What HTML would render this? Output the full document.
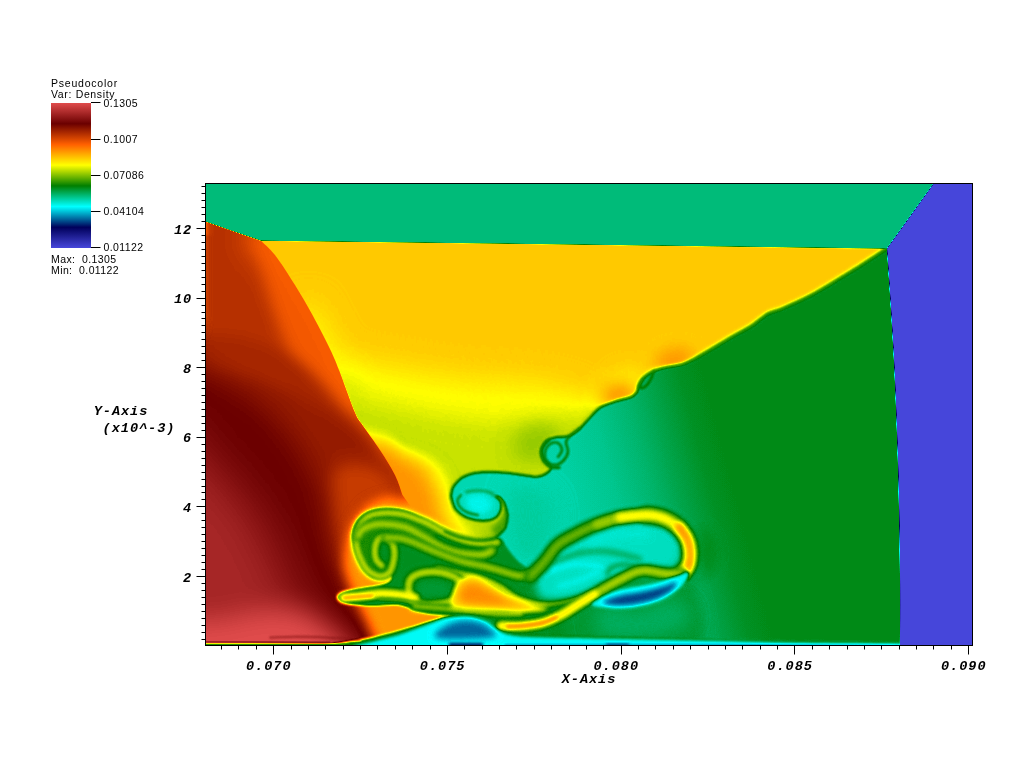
<!DOCTYPE html>
<html><head><meta charset="utf-8"><title>Pseudocolor Density</title>
<style>
html,body{margin:0;padding:0;background:#fff;overflow:hidden}
svg{display:block}
.mono text{font-family:"Liberation Mono","DejaVu Sans Mono",monospace;font-weight:bold;font-style:italic;font-size:13.6px;letter-spacing:0.95px;fill:#000}
.sans text{font-family:"Liberation Sans","DejaVu Sans",sans-serif;font-size:10.5px;fill:#000;letter-spacing:0.4px}
.sans text.t{letter-spacing:0.78px}
</style></head><body>
<svg width="1024" height="760" viewBox="0 0 1024 760">
<defs>
<linearGradient id="lg1" gradientUnits="userSpaceOnUse" x1="492" y1="480" x2="716" y2="421"><stop offset="0" stop-color="#545454" stop-opacity="1"/><stop offset="0.15" stop-color="#545454" stop-opacity="1"/><stop offset="0.32" stop-color="#565656" stop-opacity="1"/><stop offset="0.5" stop-color="#595959" stop-opacity="1"/><stop offset="0.66" stop-color="#5e5e5e" stop-opacity="1"/><stop offset="0.8" stop-color="#646464" stop-opacity="1"/><stop offset="0.9" stop-color="#686868" stop-opacity="1"/><stop offset="1" stop-color="#6a6a6a" stop-opacity="1"/></linearGradient>
<filter id="b10" filterUnits="userSpaceOnUse" x="100" y="100" width="960" height="640" color-interpolation-filters="sRGB"><feGaussianBlur stdDeviation="10"/></filter>
<clipPath id="cy"><path d="M200 235 L887 248 L887 248.5C882.6 251.3 863.9 263.6 854 269.7C844.1 275.8 822.6 289.1 813 294.3C803.4 299.5 788.3 306.1 782.3 308.7C776.3 311.3 772.1 311.5 768 313.8C763.9 316.1 756.4 322.9 751.5 326C746.6 329.1 736.5 334.2 731 337.4C725.5 340.6 715.3 346.9 710.5 349.7C705.7 352.5 698.6 356.5 694.8 358.4C691 360.3 685.8 362.9 682 364C678.2 365.1 670.2 366.1 666.4 367C662.6 367.9 656.7 369.6 653.7 371C650.7 372.4 646.2 375.5 644.2 377.4C642.2 379.3 639.7 383.4 638.7 385.3C637.7 387.2 637.9 390.1 637 391.6C636.1 393.1 634.4 395.1 631.6 396.4C628.8 397.7 620 399.5 615.8 401C611.6 402.5 603.8 404.9 600 407.4C596.2 409.9 590.4 417 587.5 420C584.6 423 580.6 427.9 578 430C575.4 432.1 570.9 435.1 568 436C565.1 436.9 558.9 436.3 556 437C553.1 437.7 548 439.1 546 441C544 442.9 541.3 448.3 541 451C540.7 453.7 542.7 458.7 544 461C545.3 463.3 550.9 466.3 551 468C551.1 469.7 547.1 472.9 545 474C542.9 475.1 540.3 476.7 535 476.5C529.7 476.3 512.7 473 505 472.5C497.3 472 482.7 471.8 477 472.5C471.3 473.2 465.2 475.6 462 477.5C458.8 479.4 454.5 484.7 453 487C451.5 489.3 451.2 493.3 451 495C450.8 496.7 451.1 498 451.7 500C452.3 502 454 507.5 455.7 509.7C457.4 511.9 461.7 515.2 464.6 516.7C467.5 518.2 474.1 520.1 477.4 520.6C480.7 521.1 486.6 521.1 489.2 520.6C491.8 520.1 495.5 518.2 497.1 516.7C498.7 515.2 500.5 511.8 501 509.7C501.5 507.6 501.2 502.8 500.5 501C499.8 499.2 496.6 497.1 496 496.5L500 497 L504.5 503 L507.5 514.7 L505.5 527.5 L495 538 L500 548 L520 600 L520 650 L200 650Z"/></clipPath>
<filter id="b1_3" filterUnits="userSpaceOnUse" x="100" y="100" width="960" height="640" color-interpolation-filters="sRGB"><feGaussianBlur stdDeviation="1.3"/></filter>
<filter id="b14" filterUnits="userSpaceOnUse" x="100" y="100" width="960" height="640" color-interpolation-filters="sRGB"><feGaussianBlur stdDeviation="14"/></filter>
<filter id="b11" filterUnits="userSpaceOnUse" x="100" y="100" width="960" height="640" color-interpolation-filters="sRGB"><feGaussianBlur stdDeviation="11"/></filter>
<filter id="b8" filterUnits="userSpaceOnUse" x="100" y="100" width="960" height="640" color-interpolation-filters="sRGB"><feGaussianBlur stdDeviation="8"/></filter>
<filter id="b6" filterUnits="userSpaceOnUse" x="100" y="100" width="960" height="640" color-interpolation-filters="sRGB"><feGaussianBlur stdDeviation="6"/></filter>
<filter id="b7" filterUnits="userSpaceOnUse" x="100" y="100" width="960" height="640" color-interpolation-filters="sRGB"><feGaussianBlur stdDeviation="7"/></filter>
<filter id="b3_5" filterUnits="userSpaceOnUse" x="100" y="100" width="960" height="640" color-interpolation-filters="sRGB"><feGaussianBlur stdDeviation="3.5"/></filter>
<filter id="b2_5" filterUnits="userSpaceOnUse" x="100" y="100" width="960" height="640" color-interpolation-filters="sRGB"><feGaussianBlur stdDeviation="2.5"/></filter>
<filter id="b7_5" filterUnits="userSpaceOnUse" x="100" y="100" width="960" height="640" color-interpolation-filters="sRGB"><feGaussianBlur stdDeviation="7.5"/></filter>
<filter id="b0_9" filterUnits="userSpaceOnUse" x="100" y="100" width="960" height="640" color-interpolation-filters="sRGB"><feGaussianBlur stdDeviation="0.9"/></filter>
<filter id="b3" filterUnits="userSpaceOnUse" x="100" y="100" width="960" height="640" color-interpolation-filters="sRGB"><feGaussianBlur stdDeviation="3"/></filter>
<filter id="b1_2" filterUnits="userSpaceOnUse" x="100" y="100" width="960" height="640" color-interpolation-filters="sRGB"><feGaussianBlur stdDeviation="1.2"/></filter>
<filter id="b1_5" filterUnits="userSpaceOnUse" x="100" y="100" width="960" height="640" color-interpolation-filters="sRGB"><feGaussianBlur stdDeviation="1.5"/></filter>
<filter id="b1_0" filterUnits="userSpaceOnUse" x="100" y="100" width="960" height="640" color-interpolation-filters="sRGB"><feGaussianBlur stdDeviation="1.0"/></filter>
<clipPath id="cr"><path d="M261 240.7C263.3 243.1 269.3 247.6 275 255C280.7 262.4 288.8 275 295 285C301.2 295 306.7 304.3 312.5 315C318.3 325.7 325.6 339.8 330 349C334.4 358.2 334.8 359.4 339 370C343.2 380.6 351.1 403.3 355 412.5C358.9 421.7 358.3 418.8 362.5 425C366.7 431.2 374.6 441.7 380 450C385.4 458.3 391.2 467.5 395 475C398.8 482.5 401.2 491.7 402.5 495L420 520 L520 560 L520 650 L200 650 L200 219.5Z"/></clipPath>
<clipPath id="crp"><path d="M170 190C184 133.4 274.2 199.2 290 205C305.8 210.8 300.9 232.4 305 240C309.1 247.6 320.6 263 325 270C329.4 277 338.4 292.5 342.5 300C346.6 307.5 356.9 327.6 360 334C363.1 340.4 366.1 347.6 369 355C371.9 362.4 382.3 391.1 385 397.5C387.7 403.9 389.6 405.6 392.5 410C395.4 414.4 406.2 429.2 410 435C413.8 440.8 423.2 453.6 425 460C426.8 466.4 427.4 485.3 425 490C422.6 494.7 408.3 499.3 404 500C399.7 500.7 392.4 495.3 388 496C383.6 496.7 370.6 502 366 506C361.4 510 351.7 523.1 349 530C346.3 536.9 342.5 557.4 343 565C343.5 572.6 349.6 586.8 353 595C356.4 603.2 368.9 623.9 372 635C375.1 646.1 403.6 683.6 380 690C356.4 696.4 194.5 748.3 170 690C145.5 631.7 156 246.6 170 190Z"/></clipPath>
<filter id="b4_5" filterUnits="userSpaceOnUse" x="100" y="100" width="960" height="640" color-interpolation-filters="sRGB"><feGaussianBlur stdDeviation="4.5"/></filter>
<filter id="b5" filterUnits="userSpaceOnUse" x="100" y="100" width="960" height="640" color-interpolation-filters="sRGB"><feGaussianBlur stdDeviation="5"/></filter>
<filter id="b15" filterUnits="userSpaceOnUse" x="100" y="100" width="960" height="640" color-interpolation-filters="sRGB"><feGaussianBlur stdDeviation="15"/></filter>
<filter id="b24" filterUnits="userSpaceOnUse" x="100" y="100" width="960" height="640" color-interpolation-filters="sRGB"><feGaussianBlur stdDeviation="24"/></filter>
<filter id="b13" filterUnits="userSpaceOnUse" x="100" y="100" width="960" height="640" color-interpolation-filters="sRGB"><feGaussianBlur stdDeviation="13"/></filter>
<filter id="b2_2" filterUnits="userSpaceOnUse" x="100" y="100" width="960" height="640" color-interpolation-filters="sRGB"><feGaussianBlur stdDeviation="2.2"/></filter>
<filter id="b1_1" filterUnits="userSpaceOnUse" x="100" y="100" width="960" height="640" color-interpolation-filters="sRGB"><feGaussianBlur stdDeviation="1.1"/></filter>
<filter id="b9" filterUnits="userSpaceOnUse" x="100" y="100" width="960" height="640" color-interpolation-filters="sRGB"><feGaussianBlur stdDeviation="9"/></filter>
<filter id="b2" filterUnits="userSpaceOnUse" x="100" y="100" width="960" height="640" color-interpolation-filters="sRGB"><feGaussianBlur stdDeviation="2"/></filter>
<filter id="b2_1" filterUnits="userSpaceOnUse" x="100" y="100" width="960" height="640" color-interpolation-filters="sRGB"><feGaussianBlur stdDeviation="2.1"/></filter>
<filter id="b1_8" filterUnits="userSpaceOnUse" x="100" y="100" width="960" height="640" color-interpolation-filters="sRGB"><feGaussianBlur stdDeviation="1.8"/></filter>
<filter id="b2_3" filterUnits="userSpaceOnUse" x="100" y="100" width="960" height="640" color-interpolation-filters="sRGB"><feGaussianBlur stdDeviation="2.3"/></filter>
<filter id="b2_0" filterUnits="userSpaceOnUse" x="100" y="100" width="960" height="640" color-interpolation-filters="sRGB"><feGaussianBlur stdDeviation="2.0"/></filter>
<filter id="b2_1999999999999997" filterUnits="userSpaceOnUse" x="100" y="100" width="960" height="640" color-interpolation-filters="sRGB"><feGaussianBlur stdDeviation="2.1999999999999997"/></filter>
<filter id="b1_9" filterUnits="userSpaceOnUse" x="100" y="100" width="960" height="640" color-interpolation-filters="sRGB"><feGaussianBlur stdDeviation="1.9"/></filter>
<filter id="b1_9000000000000001" filterUnits="userSpaceOnUse" x="100" y="100" width="960" height="640" color-interpolation-filters="sRGB"><feGaussianBlur stdDeviation="1.9000000000000001"/></filter>
<filter id="b1_6" filterUnits="userSpaceOnUse" x="100" y="100" width="960" height="640" color-interpolation-filters="sRGB"><feGaussianBlur stdDeviation="1.6"/></filter>
<filter id="b4" filterUnits="userSpaceOnUse" x="100" y="100" width="960" height="640" color-interpolation-filters="sRGB"><feGaussianBlur stdDeviation="4"/></filter>
<filter id="b2_4" filterUnits="userSpaceOnUse" x="100" y="100" width="960" height="640" color-interpolation-filters="sRGB"><feGaussianBlur stdDeviation="2.4"/></filter>
<filter id="b2_6" filterUnits="userSpaceOnUse" x="100" y="100" width="960" height="640" color-interpolation-filters="sRGB"><feGaussianBlur stdDeviation="2.6"/></filter>
<filter id="b3_3" filterUnits="userSpaceOnUse" x="100" y="100" width="960" height="640" color-interpolation-filters="sRGB"><feGaussianBlur stdDeviation="3.3"/></filter>
<filter id="b0_8" filterUnits="userSpaceOnUse" x="100" y="100" width="960" height="640" color-interpolation-filters="sRGB"><feGaussianBlur stdDeviation="0.8"/></filter>
<filter id="b0_5" filterUnits="userSpaceOnUse" x="100" y="100" width="960" height="640" color-interpolation-filters="sRGB"><feGaussianBlur stdDeviation="0.5"/></filter>
<filter id="b0_6" filterUnits="userSpaceOnUse" x="100" y="100" width="960" height="640" color-interpolation-filters="sRGB"><feGaussianBlur stdDeviation="0.6"/></filter>
<filter id="cmap" filterUnits="userSpaceOnUse" x="0" y="0" width="1024" height="760" color-interpolation-filters="sRGB"><feComponentTransfer><feFuncR type="table" tableValues="0.2784 0.0000 0.0000 0.0000 1.0000 1.0000 0.4196 0.8784"/><feFuncG type="table" tableValues="0.2784 0.0000 1.0000 0.4980 1.0000 0.3765 0.0000 0.2980"/><feFuncB type="table" tableValues="0.8588 0.3569 1.0000 0.0000 0.0000 0.0000 0.0000 0.2980"/></feComponentTransfer></filter>
<clipPath id="pc"><rect x="205" y="183" width="768" height="463"/></clipPath>
<linearGradient id="lg" x1="0" y1="0" x2="0" y2="1"><stop offset="0.0000" stop-color="rgb(224,76,76)"/><stop offset="0.1429" stop-color="rgb(107,0,0)"/><stop offset="0.2857" stop-color="rgb(255,96,0)"/><stop offset="0.4286" stop-color="rgb(255,255,0)"/><stop offset="0.5714" stop-color="rgb(0,127,0)"/><stop offset="0.7143" stop-color="rgb(0,255,255)"/><stop offset="0.8571" stop-color="rgb(0,0,91)"/><stop offset="1.0000" stop-color="rgb(71,71,219)"/></linearGradient>
</defs>
<rect width="1024" height="760" fill="#fff"/>
<g filter="url(#cmap)">
<path d="M200 180 L980 180 L980 650 L200 650Z" fill="#6a6a6a"/>
<path d="M200 180 L980 180 L980 650 L200 650Z" fill="url(#lg1)"/>
<path d="M508 490C511.8 480 527.2 482.5 535 485C542.8 487.5 552.5 495 555 505C557.5 515 554.2 535 550 545C545.8 555 536.3 565 530 565C523.7 565 515.7 557.5 512 545C508.3 532.5 504.2 500 508 490Z" fill="#575757" filter="url(#b10)"/>
<g filter="url(#b1_3)">
<g clip-path="url(#cy)">
<path d="M200 235 L887 248 L887 248.5C882.6 251.3 863.9 263.6 854 269.7C844.1 275.8 822.6 289.1 813 294.3C803.4 299.5 788.3 306.1 782.3 308.7C776.3 311.3 772.1 311.5 768 313.8C763.9 316.1 756.4 322.9 751.5 326C746.6 329.1 736.5 334.2 731 337.4C725.5 340.6 715.3 346.9 710.5 349.7C705.7 352.5 698.6 356.5 694.8 358.4C691 360.3 685.8 362.9 682 364C678.2 365.1 670.2 366.1 666.4 367C662.6 367.9 656.7 369.6 653.7 371C650.7 372.4 646.2 375.5 644.2 377.4C642.2 379.3 639.7 383.4 638.7 385.3C637.7 387.2 637.9 390.1 637 391.6C636.1 393.1 634.4 395.1 631.6 396.4C628.8 397.7 620 399.5 615.8 401C611.6 402.5 603.8 404.9 600 407.4C596.2 409.9 590.4 417 587.5 420C584.6 423 580.6 427.9 578 430C575.4 432.1 570.9 435.1 568 436C565.1 436.9 558.9 436.3 556 437C553.1 437.7 548 439.1 546 441C544 442.9 541.3 448.3 541 451C540.7 453.7 542.7 458.7 544 461C545.3 463.3 550.9 466.3 551 468C551.1 469.7 547.1 472.9 545 474C542.9 475.1 540.3 476.7 535 476.5C529.7 476.3 512.7 473 505 472.5C497.3 472 482.7 471.8 477 472.5C471.3 473.2 465.2 475.6 462 477.5C458.8 479.4 454.5 484.7 453 487C451.5 489.3 451.2 493.3 451 495C450.8 496.7 451.1 498 451.7 500C452.3 502 454 507.5 455.7 509.7C457.4 511.9 461.7 515.2 464.6 516.7C467.5 518.2 474.1 520.1 477.4 520.6C480.7 521.1 486.6 521.1 489.2 520.6C491.8 520.1 495.5 518.2 497.1 516.7C498.7 515.2 500.5 511.8 501 509.7C501.5 507.6 501.2 502.8 500.5 501C499.8 499.2 496.6 497.1 496 496.5L500 497 L504.5 503 L507.5 514.7 L505.5 527.5 L495 538 L500 548 L520 600 L520 650 L200 650Z" fill="#9e9e9e"/>
<path d="M300 320C307.5 262.7 328.3 348 345 356C361.7 364 381.7 364.5 400 368C418.3 371.5 433.3 374.7 455 377C476.7 379.3 510.5 379.7 530 382C549.5 384.3 560.3 386.3 572 391C583.7 395.7 591.2 401.8 600 410C608.8 418.2 618.3 391.7 625 440C631.7 488.3 694.2 656.7 640 700C585.8 743.3 356.7 763.3 300 700C243.3 636.7 292.5 377.3 300 320Z" fill="#929292" filter="url(#b14)"/>
<path d="M340 390C344.2 339.7 350 394.2 365 398C380 401.8 410.8 409.2 430 413C449.2 416.8 463.3 420 480 421C496.7 422 511.7 420.8 530 419C548.3 417.2 571.7 414.5 590 410C608.3 405.5 631.7 343.7 640 392C648.3 440.3 690 648.7 640 700C590 751.3 390 751.7 340 700C290 648.3 335.8 440.3 340 390Z" fill="#8a8a8a" filter="url(#b11)"/>
<path d="M518 432C522.3 426.8 533.3 424.3 540 424C546.7 423.7 555 425.7 558 430C561 434.3 561.8 444.7 558 450C554.2 455.3 542.3 461.2 535 462C527.7 462.8 516.8 460 514 455C511.2 450 513.7 437.2 518 432Z" fill="#838383" filter="url(#b8)"/>
<path d="M372 432C388.7 433 389.3 441 400 446C410.7 451 427.3 454.7 436 462C444.7 469.3 447.7 480.3 452 490C456.3 499.7 456.7 510.3 462 520C467.3 529.7 474.3 541.3 484 548C493.7 554.7 514 534.7 520 560C526 585.3 556.7 676.7 520 700C483.3 723.3 336.7 743.3 300 700C263.3 656.7 288 484.7 300 440C312 395.3 355.3 431 372 432Z" fill="#939393" filter="url(#b6)"/>
<path d="M376 440C392.7 440.3 391.3 447.7 400 452C408.7 456.3 421 459.3 428 466C435 472.7 438.3 483 442 492C445.7 501 445 511.2 450 520C455 528.8 462 538.3 472 545C482 551.7 502 534.2 510 560C518 585.8 555 676.7 520 700C485 723.3 336.7 741.7 300 700C263.3 658.3 287.3 493.3 300 450C312.7 406.7 359.3 439.7 376 440Z" fill="#9e9e9e" filter="url(#b6)"/>
<path d="M380 450C396.7 450.8 393.3 456.3 400 460C406.7 463.7 414.7 466.2 420 472C425.3 477.8 428.7 486.7 432 495C435.3 503.3 435.3 513.7 440 522C444.7 530.3 450 538.3 460 545C470 551.7 490 536.2 500 562C510 587.8 553.3 677 520 700C486.7 723 336.7 740.8 300 700C263.3 659.2 286.7 496.7 300 455C313.3 413.3 363.3 449.2 380 450Z" fill="#aaaaaa" filter="url(#b7)"/>
<path d="M482 522C482.7 518.5 487.5 524.2 490 524C492.5 523.8 495.2 522.3 497 521C498.8 519.7 499.5 518.7 501 516C502.5 513.3 504.2 506.8 506 505C507.8 503.2 511 500.5 512 505C513 509.5 514.3 525.3 512 532C509.7 538.7 502.3 542.8 498 545C493.7 547.2 488.7 548.8 486 545C483.3 541.2 481.3 525.5 482 522Z" fill="#868686" filter="url(#b3_5)"/>
<path d="M492 528C492.3 525 498.2 523.3 500 520C501.8 516.7 503 512 503 508C503 504 498.8 498.3 500 496C501.2 493.7 507.7 490.8 510 494C512.3 497.2 514.3 508.7 514 515C513.7 521.3 510.7 528.2 508 532C505.3 535.8 500.7 538.7 498 538C495.3 537.3 491.7 531 492 528Z" fill="#787878" filter="url(#b2_5)"/>
<path d="M887 248.5C882.6 251.3 863.9 263.6 854 269.7C844.1 275.8 822.6 289.1 813 294.3C803.4 299.5 788.3 306.1 782.3 308.7C776.3 311.3 772.1 311.5 768 313.8C763.9 316.1 756.4 322.9 751.5 326C746.6 329.1 736.5 334.2 731 337.4C725.5 340.6 715.3 346.9 710.5 349.7C705.7 352.5 698.6 356.5 694.8 358.4C691 360.3 685.8 362.9 682 364C678.2 365.1 670.2 366.1 666.4 367C662.6 367.9 656.7 369.6 653.7 371C650.7 372.4 646.2 375.5 644.2 377.4C642.2 379.3 639.7 383.4 638.7 385.3C637.7 387.2 637.9 390.1 637 391.6C636.1 393.1 634.4 395.1 631.6 396.4C628.8 397.7 620 399.5 615.8 401C611.6 402.5 603.8 404.9 600 407.4C596.2 409.9 590.4 417 587.5 420C584.6 423 580.6 427.9 578 430C575.4 432.1 570.9 435.1 568 436C565.1 436.9 558.9 436.3 556 437C553.1 437.7 548 439.1 546 441C544 442.9 541.3 448.3 541 451C540.7 453.7 542.7 458.7 544 461C545.3 463.3 550.9 466.3 551 468C551.1 469.7 547.1 472.9 545 474C542.9 475.1 540.3 476.7 535 476.5C529.7 476.3 512.7 473 505 472.5C497.3 472 482.7 471.8 477 472.5C471.3 473.2 465.2 475.6 462 477.5C458.8 479.4 454.5 484.7 453 487C451.5 489.3 451.2 493.3 451 495C450.8 496.7 451.1 498 451.7 500C452.3 502 454 507.5 455.7 509.7C457.4 511.9 461.7 515.2 464.6 516.7C467.5 518.2 474.1 520.1 477.4 520.6C480.7 521.1 486.6 521.1 489.2 520.6C491.8 520.1 495.5 518.2 497.1 516.7C498.7 515.2 500.5 511.8 501 509.7C501.5 507.6 501.2 502.8 500.5 501C499.8 499.2 496.6 497.1 496 496.5" fill="none" stroke="#8b8b8b" stroke-width="5.5" stroke-linecap="round" stroke-linejoin="round" filter="url(#b1_3)"/>
<path d="M662 353C667 349.8 680.8 347.3 686 349C691.2 350.7 695.3 359 693 363C690.7 367 678.2 372.2 672 373C665.8 373.8 657.7 371.3 656 368C654.3 364.7 657 356.2 662 353Z" fill="#aaaaaa" filter="url(#b7_5)"/>
<path d="M605 387C609.5 383.2 623.7 380.3 629 382C634.3 383.7 638.5 392.8 637 397C635.5 401.2 625.8 405.7 620 407C614.2 408.3 604.5 408.3 602 405C599.5 401.7 600.5 390.8 605 387Z" fill="#aaaaaa" filter="url(#b7_5)"/>
</g>
</g>
<path d="M887 248.5C882.6 251.3 863.9 263.6 854 269.7C844.1 275.8 822.6 289.1 813 294.3C803.4 299.5 788.3 306.1 782.3 308.7C776.3 311.3 772.1 311.5 768 313.8C763.9 316.1 756.4 322.9 751.5 326C746.6 329.1 736.5 334.2 731 337.4C725.5 340.6 715.3 346.9 710.5 349.7C705.7 352.5 698.6 356.5 694.8 358.4C691 360.3 685.8 362.9 682 364C678.2 365.1 670.2 366.1 666.4 367C662.6 367.9 656.7 369.6 653.7 371C650.7 372.4 646.2 375.5 644.2 377.4C642.2 379.3 639.7 383.4 638.7 385.3C637.7 387.2 637.9 390.1 637 391.6C636.1 393.1 634.4 395.1 631.6 396.4C628.8 397.7 620 399.5 615.8 401C611.6 402.5 603.8 404.9 600 407.4C596.2 409.9 590.4 417 587.5 420C584.6 423 580.6 427.9 578 430C575.4 432.1 570.9 435.1 568 436C565.1 436.9 558.9 436.3 556 437C553.1 437.7 548 439.1 546 441C544 442.9 541.3 448.3 541 451C540.7 453.7 542.7 458.7 544 461C545.3 463.3 550.9 466.3 551 468C551.1 469.7 547.1 472.9 545 474C542.9 475.1 540.3 476.7 535 476.5C529.7 476.3 512.7 473 505 472.5C497.3 472 482.7 471.8 477 472.5C471.3 473.2 465.2 475.6 462 477.5C458.8 479.4 454.5 484.7 453 487C451.5 489.3 451.2 493.3 451 495C450.8 496.7 451.1 498 451.7 500C452.3 502 454 507.5 455.7 509.7C457.4 511.9 461.7 515.2 464.6 516.7C467.5 518.2 474.1 520.1 477.4 520.6C480.7 521.1 486.6 521.1 489.2 520.6C491.8 520.1 495.5 518.2 497.1 516.7C498.7 515.2 500.5 511.8 501 509.7C501.5 507.6 501.2 502.8 500.5 501C499.8 499.2 496.6 497.1 496 496.5" fill="none" stroke="#707070" stroke-width="2.2" stroke-linecap="round" stroke-linejoin="round" filter="url(#b0_9)"/>
<path d="M466 498C467.3 495.2 474 493.8 478 494C482 494.2 487.7 496.7 490 499C492.3 501.3 493.3 505.5 492 508C490.7 510.5 485.7 513.5 482 514C478.3 514.5 472.7 513.7 470 511C467.3 508.3 464.7 500.8 466 498Z" fill="#4c4c4c" filter="url(#b3)"/>
<path d="M461 495C460.4 495.8 457.8 498 457.6 500C457.4 502 458 504.7 459.6 506.8C461.2 508.9 464.4 511.1 467.5 512.5C470.6 513.9 476.2 514.6 478 515" fill="none" stroke="#6b6b6b" stroke-width="2.5" stroke-linecap="round" stroke-linejoin="round" filter="url(#b1_2)"/>
<path d="M496 496.5C494.8 495.8 492 493 489 492C486 491 481.8 490.5 478 490.5C474.2 490.5 468 491.8 466 492" fill="none" stroke="#666666" stroke-width="2.5" stroke-linecap="round" stroke-linejoin="round" filter="url(#b1_5)"/>
<path d="M580 428C578.3 429.3 572.3 433.7 570 436C567.7 438.3 566.3 439.3 566 442C565.7 444.7 568.5 448.8 568 452C567.5 455.2 565.2 458.8 563 461C560.8 463.2 557.7 465 555 465C552.3 465 548.7 463.2 547 461C545.3 458.8 544.5 454.8 545 452C545.5 449.2 547.8 445.5 550 444C552.2 442.5 556 442 558 443C560 444 562 447.7 562 450C562 452.3 558.7 455.8 558 457" fill="none" stroke="#707070" stroke-width="2.5" stroke-linecap="round" stroke-linejoin="round" filter="url(#b1_0)"/>
<path d="M549 440C548 441 544.2 443.8 543 446C541.8 448.2 541.3 450.5 541.5 453C541.7 455.5 542.4 458.7 544 461C545.6 463.3 548.5 465.9 551 467C553.5 468.1 557.7 467.4 559 467.5" fill="none" stroke="#6f6f6f" stroke-width="3.5" stroke-linecap="round" stroke-linejoin="round" filter="url(#b1_3)"/>
<path d="M653.7 371C653.2 372.3 652.3 376.5 651 379C649.7 381.5 647.7 384.5 646 386C644.3 387.5 642 388.3 641 388C640 387.7 639.7 385.5 640 384C640.3 382.5 642.5 379.8 643 379" fill="none" stroke="#717171" stroke-width="2.5" stroke-linecap="round" stroke-linejoin="round" filter="url(#b1_0)"/>
<g clip-path="url(#cr)">
<g filter="url(#b6)">
<g clip-path="url(#crp)">
<path d="M200 180 L980 180 L980 650 L200 650Z" fill="#c8c8c8"/>
<path d="M261 240.7C263.3 243.1 269.3 247.6 275 255C280.7 262.4 288.8 275 295 285C301.2 295 306.7 304.3 312.5 315C318.3 325.7 325.6 339.8 330 349C334.4 358.2 334.8 359.4 339 370C343.2 380.6 351.1 403.3 355 412.5C358.9 421.7 358.3 418.8 362.5 425C366.7 431.2 374.6 441.7 380 450C385.4 458.3 391.2 467.5 395 475C398.8 482.5 401.2 491.7 402.5 495" fill="none" stroke="#b6b6b6" stroke-width="30" stroke-linecap="round" stroke-linejoin="round" filter="url(#b10)"/>
<path d="M262 236C265.8 230.7 281.2 241 289 248C296.8 255 302.8 268 309 278C315.2 288 320.7 297.3 326.5 308C332.3 318.7 339.6 332.8 344 342C348.4 351.2 348.8 352.4 353 363C357.2 373.6 365.1 396.3 369 405.5C372.9 414.7 377.6 414.8 376.5 418C375.4 421.2 368.6 426 362.5 425C356.4 424 347.9 417.7 340 412C332.1 406.3 323 400.2 315 391C307 381.8 298.3 368.8 292 357C285.7 345.2 281.3 332.8 277 320C272.7 307.2 268.5 294 266 280C263.5 266 258.2 241.3 262 236Z" fill="#b8b8b8" filter="url(#b4_5)" opacity="0.9"/>
<path d="M150 315C159.2 253.7 187.7 327.8 205 332C222.3 336.2 237.5 334.3 254 340C270.5 345.7 289.2 354.7 304 366C318.8 377.3 333.3 398.2 343 408C352.7 417.8 355 417.2 362 425C369 432.8 377 442.5 385 455C393 467.5 404.2 459.2 410 500C415.8 540.8 463.3 666.7 420 700C376.7 733.3 195 764.2 150 700C105 635.8 140.8 376.3 150 315Z" fill="#cccccc" filter="url(#b5)"/>
<path d="M150 360C159.2 305.3 184.8 368.2 205 372C225.2 375.8 251.8 377.2 271 383C290.2 388.8 306 399.2 320 407C334 414.8 345.3 421.5 355 430C364.7 438.5 370.5 446.3 378 458C385.5 469.7 393 459.7 400 500C407 540.3 461.7 666.7 420 700C378.3 733.3 195 756.7 150 700C105 643.3 140.8 414.7 150 360Z" fill="#d0d0d0" filter="url(#b6)"/>
<path d="M150 350C159.2 295.3 188.3 364.3 205 372C221.7 379.7 236.7 386.3 250 396C263.3 405.7 275 418 285 430C295 442 303.8 456.3 310 468C316.2 479.7 318.2 486.3 322 500C325.8 513.7 328.3 535 333 550C337.7 565 343.5 577.5 350 590C356.5 602.5 365 613.3 372 625C379 636.7 388.7 647.5 392 660C395.3 672.5 432.3 693.3 392 700C351.7 706.7 190.3 758.3 150 700C109.7 641.7 140.8 404.7 150 350Z" fill="#dbdbdb" filter="url(#b15)"/>
<path d="M150 415C157.5 373 180.8 435.5 195 448C209.2 460.5 223.8 477 235 490C246.2 503 255 514.3 262 526C269 537.7 271 546.7 277 560C283 573.3 290.8 591.8 298 606C305.2 620.2 315.5 629.3 320 645C324.5 660.7 353.3 690.8 325 700C296.7 709.2 179.2 747.5 150 700C120.8 652.5 142.5 457 150 415Z" fill="#ededed" filter="url(#b24)"/>
<path d="M150 626C160.8 612.7 196.3 622.5 215 620C233.7 617.5 247.8 612.5 262 611C276.2 609.5 288.3 607.8 300 611C311.7 614.2 323.3 623.2 332 630C340.7 636.8 348.7 640.3 352 652C355.3 663.7 385.7 692 352 700C318.3 708 183.7 712.3 150 700C116.3 687.7 139.2 639.3 150 626Z" fill="#ffffff" filter="url(#b13)"/>
<path d="M335 470C339.3 460.5 353.7 462.7 362 463C370.3 463.3 378.7 467.2 385 472C391.3 476.8 400 487.8 400 492C400 496.2 390.8 494.3 385 497C379.2 499.7 370.8 502.5 365 508C359.2 513.5 353.7 521.3 350 530C346.3 538.7 345.3 561.7 343 560C340.7 558.3 337.3 535 336 520C334.7 505 330.7 479.5 335 470Z" fill="#c1c1c1" filter="url(#b6)" opacity="0.8"/>
<path d="M318 472C321.7 470.7 332.7 465.7 340 464C347.3 462.3 355 461 362 462C369 463 376.3 466.3 382 470C387.7 473.7 393.7 481.7 396 484" fill="none" stroke="#d5d5d5" stroke-width="3" stroke-linecap="round" stroke-linejoin="round" filter="url(#b2_2)" opacity="0.6"/>
</g>
</g>
</g>
<path d="M531 571C536.8 569 540.2 583.8 545 588C549.8 592.2 554.2 595.2 560 596C565.8 596.8 574.2 594.7 580 593C585.8 591.3 589.2 588 595 586C600.8 584 607.5 582.7 615 581C622.5 579.3 631.7 576.5 640 576C648.3 575.5 657.7 578.7 665 578C672.3 577.3 679.2 571.7 684 572C688.8 572.3 693 566.2 694 580C695 593.8 722.3 642.5 690 655C657.7 667.5 530 664.2 500 655C470 645.8 504.8 614 510 600C515.2 586 525.2 573 531 571Z" fill="#676767" filter="url(#b6)"/>
<path d="M352.6 537.4C352.9 535.5 352.9 529.7 354.2 526.3C355.5 522.9 357.6 519.5 360.5 516.9C363.4 514.3 367.1 511.9 371.6 510.5C376.1 509.1 382.1 508.2 387.4 508.2C392.7 508.2 397.9 509.1 403.2 510.5C408.5 511.9 413.7 514.3 419 516.9C424.3 519.5 429.5 523.4 434.8 526.3C440.1 529.2 445.3 532.1 450.6 534.2C455.9 536.3 461.1 537.9 466.4 539C471.7 540.1 477.1 540.7 482.2 540.6C487.3 540.5 493.5 538.4 497 538.5C500.5 538.6 501.2 539.2 503 541C504.8 542.8 505.4 545.6 508 549C510.6 552.4 514.7 557.9 518.5 561.6C522.3 565.3 527.4 567.6 531 571C534.6 574.4 538.5 580.2 540 582L548 600 L548 655 L500 655 L497 634C495.8 632.7 493.3 628.6 490 626C486.7 623.4 483.2 620.2 477 618.5C470.8 616.8 460.8 616.8 453 616C445.2 615.2 436.7 615 430 614C423.3 613 416.8 611.1 413 610C409.2 608.9 410.5 608.3 407.5 607.5C404.5 606.7 401.2 605.2 395 605C388.8 604.8 378.3 606.2 370 606C361.7 605.8 350.5 605.1 345 603.7C339.5 602.3 337.3 599.5 337 597.5C336.7 595.5 338.6 593.2 343 591.5C347.4 589.8 357.6 588.6 363.7 587.5C369.8 586.4 375.6 585.8 379.5 585C383.4 584.2 385.4 583.7 387.4 582.6C389.4 581.5 391.2 579.8 391.5 578.5C391.8 577.2 390.8 575.2 389 575C387.2 574.8 383.7 577.2 381 577.5C378.3 577.8 375.3 577.6 373 576.5C370.7 575.4 368.8 573.2 367 570.6C365.2 568 363.9 564.4 362 561C360.1 557.6 356.8 551.8 355.8 550Z" fill="#696969" filter="url(#b1_1)"/>
<path d="M520 600C524.7 591.3 541.3 590 548 590C554.7 590 557.7 591.7 560 600C562.3 608.3 568.7 633 562 640C555.3 647 527 648.7 520 642C513 635.3 515.3 608.7 520 600Z" fill="#696969" filter="url(#b5)"/>
<path d="M600 606C606.7 601.7 627.5 611.3 640 610C652.5 608.7 666.7 596 675 598C683.3 600 694.2 615.3 690 622C685.8 628.7 665 635.7 650 638C635 640.3 608.3 641.3 600 636C591.7 630.7 593.3 610.3 600 606Z" fill="#606060" filter="url(#b9)"/>
<path d="M354 537C353 531 354.3 527.7 356 524C357.7 520.3 360 517.3 364 515C368 512.7 373.5 510.5 380 510C386.5 509.5 395.5 510.2 403 512C410.5 513.8 418.8 517.7 425 521C431.2 524.3 440.8 528.8 440 532C439.2 535.2 427.3 539.3 420 540C412.7 540.7 402 537 396 536C390 535 387.7 533.3 384 534C380.3 534.7 376.3 537 374 540C371.7 543 370 547.7 370 552C370 556.3 372.3 562.3 374 566C375.7 569.7 380.3 572.5 380 574C379.7 575.5 375 577.3 372 575C369 572.7 365 566.3 362 560C359 553.7 355 543 354 537Z" fill="#727272" filter="url(#b2)"/>
<path d="M497 542.5C495 542.7 489.5 543.6 485 543.5C480.5 543.4 475 543 470 542C465 541 460 539.4 455 537.5C450 535.6 444.4 532.8 440 530.5C435.6 528.2 432 525.8 428.5 524C425 522.2 423.2 521.6 419 520C414.8 518.4 408.5 515.7 403.2 514.5C397.9 513.3 392.7 512.8 387.4 512.9C382.1 513 375.8 513.7 371.6 515.3C367.4 516.9 364.5 519.5 362.1 522.4C359.7 525.3 358.3 528.9 357.4 532.7C356.5 536.5 356.1 541.1 356.6 545.3C357.1 549.5 358.9 554.1 360.5 557.9C362.1 561.7 363.9 565.4 366.1 568.2C368.4 571 371.4 573.2 374 574.5C376.6 575.8 379.4 576.4 381.9 576.1C384.4 575.8 387.2 574.9 389 572.9C390.8 570.9 392 567.5 392.9 564.2C393.8 560.9 394.6 556.8 394.5 553.2C394.4 549.7 393.6 545.5 392.1 542.9C390.7 540.3 388 538 385.8 537.4C383.6 536.8 380.5 537.1 378.7 539C376.9 540.9 375.2 545.1 374.8 548.5C374.4 551.9 374.9 556.7 376 559.5C377.1 562.3 380.5 564.5 381.4 565.5" fill="none" stroke="#727272" stroke-width="9.5" stroke-linecap="round" stroke-linejoin="round" filter="url(#b2_1)"/>
<path d="M497 542.5C495 542.7 489.5 543.6 485 543.5C480.5 543.4 475 543 470 542C465 541 460 539.4 455 537.5C450 535.6 444.4 532.8 440 530.5C435.6 528.2 432 525.8 428.5 524C425 522.2 423.2 521.6 419 520C414.8 518.4 408.5 515.7 403.2 514.5C397.9 513.3 392.7 512.8 387.4 512.9C382.1 513 375.8 513.7 371.6 515.3C367.4 516.9 364.5 519.5 362.1 522.4C359.7 525.3 358.3 528.9 357.4 532.7C356.5 536.5 356.1 541.1 356.6 545.3C357.1 549.5 358.9 554.1 360.5 557.9C362.1 561.7 363.9 565.4 366.1 568.2C368.4 571 371.4 573.2 374 574.5C376.6 575.8 379.4 576.4 381.9 576.1C384.4 575.8 387.2 574.9 389 572.9C390.8 570.9 392 567.5 392.9 564.2C393.8 560.9 394.6 556.8 394.5 553.2C394.4 549.7 393.6 545.5 392.1 542.9C390.7 540.3 388 538 385.8 537.4C383.6 536.8 380.5 537.1 378.7 539C376.9 540.9 375.2 545.1 374.8 548.5C374.4 551.9 374.9 556.7 376 559.5C377.1 562.3 380.5 564.5 381.4 565.5" fill="none" stroke="#868686" stroke-width="5.5" stroke-linecap="round" stroke-linejoin="round" filter="url(#b1_8)"/>
<path d="M358 536C358.9 534.8 360.1 530.7 363.7 528.7C367.3 526.7 372.9 524.3 379.5 524C386.1 523.7 396.1 524.7 403.2 526.7C410.3 528.7 415.7 532.4 422 535.8C428.3 539.2 434.7 544 441 546.9C447.3 549.8 453.2 551.9 460 553.2C466.8 554.5 476.7 555.2 482 554.8C487.3 554.4 490 551.5 491.6 550.8" fill="none" stroke="#727272" stroke-width="11" stroke-linecap="round" stroke-linejoin="round" filter="url(#b2_3)"/>
<path d="M358 536C358.9 534.8 360.1 530.7 363.7 528.7C367.3 526.7 372.9 524.3 379.5 524C386.1 523.7 396.1 524.7 403.2 526.7C410.3 528.7 415.7 532.4 422 535.8C428.3 539.2 434.7 544 441 546.9C447.3 549.8 453.2 551.9 460 553.2C466.8 554.5 476.7 555.2 482 554.8C487.3 554.4 490 551.5 491.6 550.8" fill="none" stroke="#868686" stroke-width="6" stroke-linecap="round" stroke-linejoin="round" filter="url(#b2_0)"/>
<path d="M385.8 537.4C388.2 537.5 395.8 537.6 400 538.2C404.2 538.9 405.2 539.1 411 541.3C416.8 543.5 426.6 548.3 434.8 551.6C443 554.9 452.1 558.6 460 561C467.9 563.4 475.3 564.2 482 565.8C488.7 567.4 493.9 568.9 500 570.6C506.1 572.3 513.3 575.2 518.5 575.8C523.7 576.4 527.3 575.3 531 574C534.7 572.7 539 569 540.6 568" fill="none" stroke="#727272" stroke-width="10" stroke-linecap="round" stroke-linejoin="round" filter="url(#b2_1999999999999997)"/>
<path d="M385.8 537.4C388.2 537.5 395.8 537.6 400 538.2C404.2 538.9 405.2 539.1 411 541.3C416.8 543.5 426.6 548.3 434.8 551.6C443 554.9 452.1 558.6 460 561C467.9 563.4 475.3 564.2 482 565.8C488.7 567.4 493.9 568.9 500 570.6C506.1 572.3 513.3 575.2 518.5 575.8C523.7 576.4 527.3 575.3 531 574C534.7 572.7 539 569 540.6 568" fill="none" stroke="#858585" stroke-width="5" stroke-linecap="round" stroke-linejoin="round" filter="url(#b1_9)"/>
<path d="M438 569C442.7 570 458.2 573.2 466 575C473.8 576.8 479.3 578 485 580C490.7 582 494.4 583.8 500 587C505.6 590.2 511.7 596.7 518.5 599.5C525.3 602.3 532.7 603.8 540.6 604C548.5 604.2 557.8 602.5 566 601C574.2 599.5 586 596 590 595" fill="none" stroke="#727272" stroke-width="9.5" stroke-linecap="round" stroke-linejoin="round" filter="url(#b2_1)"/>
<path d="M438 569C442.7 570 458.2 573.2 466 575C473.8 576.8 479.3 578 485 580C490.7 582 494.4 583.8 500 587C505.6 590.2 511.7 596.7 518.5 599.5C525.3 602.3 532.7 603.8 540.6 604C548.5 604.2 557.8 602.5 566 601C574.2 599.5 586 596 590 595" fill="none" stroke="#858585" stroke-width="4.5" stroke-linecap="round" stroke-linejoin="round" filter="url(#b1_8)"/>
<path d="M444.8 531.5C447.3 532.5 453.8 535.9 459.6 537.4C465.4 538.9 473.6 540.5 479.4 540.6C485.2 540.7 489.9 540.1 494.2 538C498.5 535.9 502.8 531.9 505 528C507.2 524.1 507.6 518.9 507.3 514.7C507.1 510.5 505.2 506 503.5 503C501.8 500 498.1 497.6 497 496.5" fill="none" stroke="#707070" stroke-width="2.4" stroke-linecap="round" stroke-linejoin="round" filter="url(#b1_0)"/>
<path d="M411 578.5C414.2 574.8 421.9 572.5 428.5 572C435.1 571.5 445.1 573.2 450.6 575.3C456.1 577.4 460.3 581.1 461.6 584.8C462.9 588.5 461.9 594.2 458.5 597.4C455.1 600.5 447.6 602.7 441 603.7C434.4 604.8 424.2 605.3 419 603.7C413.8 602.1 410.8 598.5 409.5 594.3C408.2 590.1 407.8 582.2 411 578.5Z" fill="none" stroke="#727272" stroke-width="11" stroke-linecap="round" stroke-linejoin="round" filter="url(#b2_1)"/>
<path d="M411 578.5C414.2 574.8 421.9 572.5 428.5 572C435.1 571.5 445.1 573.2 450.6 575.3C456.1 577.4 460.3 581.1 461.6 584.8C462.9 588.5 461.9 594.2 458.5 597.4C455.1 600.5 447.6 602.7 441 603.7C434.4 604.8 424.2 605.3 419 603.7C413.8 602.1 410.8 598.5 409.5 594.3C408.2 590.1 407.8 582.2 411 578.5Z" fill="none" stroke="#868686" stroke-width="6" stroke-linecap="round" stroke-linejoin="round" filter="url(#b1_8)"/>
<path d="M420 585C421.3 583 425.8 582 430 582C434.2 582 442 583.3 445 585C448 586.7 449.7 590.2 448 592C446.3 593.8 439.3 595.7 435 596C430.7 596.3 424.5 595.8 422 594C419.5 592.2 418.7 587 420 585Z" fill="#666666" filter="url(#b2_5)"/>
<path d="M415 606C419.2 606.3 430.8 607.2 440 608C449.2 608.8 460 610 470 611C480 612 491.7 613.5 500 614C508.3 614.5 516.7 614 520 614" fill="none" stroke="#727272" stroke-width="9" stroke-linecap="round" stroke-linejoin="round" filter="url(#b1_9000000000000001)"/>
<path d="M415 606C419.2 606.3 430.8 607.2 440 608C449.2 608.8 460 610 470 611C480 612 491.7 613.5 500 614C508.3 614.5 516.7 614 520 614" fill="none" stroke="#808080" stroke-width="4" stroke-linecap="round" stroke-linejoin="round" filter="url(#b1_6)"/>
<path d="M343 597.5C345.8 597.2 353.8 596.7 360 596C366.2 595.3 373.7 593.8 380 593.5C386.3 593.2 392.2 593.8 398 594.5C403.8 595.2 412.2 597.4 415 598" fill="none" stroke="#939393" stroke-width="8.5" stroke-linecap="round" stroke-linejoin="round" filter="url(#b2)"/>
<path d="M345 598C346.8 597.8 351.5 597.3 356 597C360.5 596.7 369.3 596.2 372 596" fill="none" stroke="#a7a7a7" stroke-width="3.5" stroke-linecap="round" stroke-linejoin="round" filter="url(#b1_6)"/>
<path d="M380 599C383.3 599.2 392.5 599.3 400 600C407.5 600.7 420.8 602.5 425 603" fill="none" stroke="#787878" stroke-width="2.5" stroke-linecap="round" stroke-linejoin="round" filter="url(#b1_2)"/>
<path d="M451 606C450.1 602.3 453.4 590.9 456 586C458.6 581.1 462.6 577.9 466.3 576.5C470 575.1 473.2 575.8 478 577.5C482.8 579.2 489.3 583.8 495 587C500.7 590.2 505.3 594 512 597C518.7 600 529 603 535 605C541 607 548.8 607.8 548 609C547.2 610.2 539.2 611.8 530 612C520.8 612.2 504.4 610.6 493 610C481.6 609.4 468.6 609.1 461.6 608.4C454.6 607.7 451.9 609.7 451 606Z" fill="#999999" filter="url(#b2_5)"/>
<path d="M459 602C456 598.8 459.3 589.3 462 586C464.7 582.7 470 581.2 475 582C480 582.8 486.2 587.8 492 591C497.8 594.2 504 598.3 510 601C516 603.7 529.7 606.1 528 607C526.3 607.9 508 606.8 500 606.5C492 606.2 486.8 606.2 480 605.5C473.2 604.8 462 605.2 459 602Z" fill="#acacac" filter="url(#b4)"/>
<path d="M550.7 561C556.6 555.9 567 546.8 575.5 541.5C584 536.2 593.1 532.1 602 529C610.9 525.9 620.2 523.9 628.8 522.9C637.4 521.9 646.6 521.6 653.7 522.9C660.8 524.2 667 527.5 671.4 530.9C675.8 534.3 678.8 538.9 680.3 543.3C681.8 547.7 681.8 553.6 680.3 557.5C678.8 561.4 675.8 564.6 671.4 566.4C667 568.1 659.6 567.7 653.7 568C647.8 568.3 642 566.8 636 568C630 569.2 624.2 572.3 618 575C611.8 577.7 605.7 580.7 598.6 584C591.5 587.3 582.9 592.1 575.5 594.8C568.1 597.5 559.9 599.7 554 600C548.1 600.3 543 599.1 540 596.6C537 594.1 536 589.1 536 585C536 580.9 537.5 576 540 572C542.5 568 544.8 566.1 550.7 561Z" fill="#525252" filter="url(#b4)"/>
<path d="M639.5 559C634.8 557.8 620.2 553.2 611 552C601.8 550.8 593.3 550.5 584.4 552C575.5 553.5 564.6 558.3 557.8 561C551 563.7 545.9 566.8 543.5 568" fill="none" stroke="#606060" stroke-width="6" stroke-linecap="round" stroke-linejoin="round" filter="url(#b2_5)"/>
<path d="M639.5 568C637.1 567.4 629.8 564.6 625 564.6C620.2 564.6 613.9 566.5 611 568C608.1 569.5 608.1 572.6 607.5 573.5" fill="none" stroke="#626262" stroke-width="5" stroke-linecap="round" stroke-linejoin="round" filter="url(#b2)"/>
<path d="M552 570C555.8 569 567 564.7 575 564C583 563.3 595.8 565.7 600 566" fill="none" stroke="#4b4b4b" stroke-width="5" stroke-linecap="round" stroke-linejoin="round" filter="url(#b2_5)"/>
<path d="M560 586C563.3 585 573.7 582.3 580 580C586.3 577.7 595 573.3 598 572" fill="none" stroke="#4c4c4c" stroke-width="5" stroke-linecap="round" stroke-linejoin="round" filter="url(#b2_5)"/>
<path d="M590 543C594.2 541.7 605.7 536.5 615 535C624.3 533.5 640.8 534.2 646 534" fill="none" stroke="#4f4f4f" stroke-width="6" stroke-linecap="round" stroke-linejoin="round" filter="url(#b3)"/>
<path d="M531 576C533.3 573.5 540.5 566.2 545 561C549.5 555.8 552.7 549.4 557.8 545C562.9 540.6 569 537.8 575.5 534.4C582 531 589.4 527.4 596.8 524.6C604.2 521.8 611.7 519.1 620 517.5C628.3 515.9 639.2 514.8 646.6 514.9C654 515 659 516.3 664.3 518.4C669.6 520.5 674.6 523.8 678.5 527.3C682.4 530.8 685.5 535.6 687.4 539.7C689.3 543.9 689.9 548.1 690 552.2C690.1 556.4 689.9 560.8 688.3 564.6C686.7 568.5 681.6 573.5 680.3 575.3" fill="none" stroke="#727272" stroke-width="15" stroke-linecap="round" stroke-linejoin="round" filter="url(#b2_2)"/>
<path d="M646.6 514.9C649.5 515.5 659 516.3 664.3 518.4C669.6 520.5 674.6 523.8 678.5 527.3C682.4 530.8 685.5 535.6 687.4 539.7C689.3 543.9 689.9 548.1 690 552.2C690.1 556.4 689.9 560.8 688.3 564.6C686.7 568.5 681.6 573.5 680.3 575.3" fill="none" stroke="#727272" stroke-width="18" stroke-linecap="round" stroke-linejoin="round" filter="url(#b2_4)"/>
<path d="M531 576C533.3 573.5 540.5 566.2 545 561C549.5 555.8 552.7 549.4 557.8 545C562.9 540.6 569 537.8 575.5 534.4C582 531 589.4 527.4 596.8 524.6C604.2 521.8 616.1 518.7 620 517.5" fill="none" stroke="#7d7d7d" stroke-width="6" stroke-linecap="round" stroke-linejoin="round" filter="url(#b2_2)"/>
<path d="M596.8 524.6C600.7 523.4 611.7 519.1 620 517.5C628.3 515.9 639.2 514.8 646.6 514.9C654 515 659 516.3 664.3 518.4C669.6 520.5 674.6 523.8 678.5 527.3C682.4 530.8 685.5 535.6 687.4 539.7C689.3 543.9 689.9 548.1 690 552.2C690.1 556.4 689.9 560.8 688.3 564.6C686.7 568.5 681.6 573.5 680.3 575.3" fill="none" stroke="#838383" stroke-width="8" stroke-linecap="round" stroke-linejoin="round" filter="url(#b2_2)"/>
<path d="M620 517.5C624.4 517.1 639.2 514.8 646.6 514.9C654 515 659 516.3 664.3 518.4C669.6 520.5 674.6 523.8 678.5 527.3C682.4 530.8 685.5 535.6 687.4 539.7C689.3 543.9 689.9 548.1 690 552.2C690.1 556.4 689.9 560.8 688.3 564.6C686.7 568.5 681.6 573.5 680.3 575.3" fill="none" stroke="#939393" stroke-width="9" stroke-linecap="round" stroke-linejoin="round" filter="url(#b2_5)"/>
<path d="M679 527C680.5 529.2 686 535.7 688 540C690 544.3 690.8 548.7 691 553C691.2 557.3 690.2 562.3 689 566C687.8 569.7 684.8 573.5 684 575" fill="none" stroke="#aaaaaa" stroke-width="8" stroke-linecap="round" stroke-linejoin="round" filter="url(#b2_6)"/>
<path d="M700 525C702.5 525 711.5 533.3 714 540C716.5 546.7 716.7 558.3 715 565C713.3 571.7 706.7 580.8 704 580C701.3 579.2 699.8 566.7 699 560C698.2 553.3 698.8 545.8 699 540C699.2 534.2 697.5 525 700 525Z" fill="#6e6e6e" filter="url(#b7)" opacity="0.6"/>
<path d="M682 574C679 573.9 670.2 574.1 664.3 573.5C658.4 572.9 651.3 570.8 646.6 570.5C641.9 570.2 639.5 570.9 636 572C632.5 573.1 629.5 574.9 625.3 577C621.1 579.1 616 581.7 611 584.5C606 587.3 600.5 590.7 595 594C589.5 597.3 583.7 601 578 604.5C572.3 608 567 611.9 561 615C555 618.1 548.4 621.2 541.8 623C535.2 624.8 528.3 625.5 521.5 626C514.7 626.5 504.4 626 501 626" fill="none" stroke="#727272" stroke-width="13" stroke-linecap="round" stroke-linejoin="round" filter="url(#b2)"/>
<path d="M682 574C679 573.9 670.2 574.1 664.3 573.5C658.4 572.9 651.3 570.8 646.6 570.5C641.9 570.2 639.5 570.9 636 572C632.5 573.1 629.5 574.9 625.3 577C621.1 579.1 616 581.7 611 584.5C606 587.3 600.5 590.7 595 594C589.5 597.3 583.7 601 578 604.5C572.3 608 567 611.9 561 615C555 618.1 548.4 621.2 541.8 623C535.2 624.8 528.3 625.5 521.5 626C514.7 626.5 504.4 626 501 626" fill="none" stroke="#868686" stroke-width="7" stroke-linecap="round" stroke-linejoin="round" filter="url(#b2)"/>
<path d="M595 594C592.2 595.8 583.7 601 578 604.5C572.3 608 567 611.9 561 615C555 618.1 548.4 621.2 541.8 623C535.2 624.8 528.3 625.5 521.5 626C514.7 626.5 504.4 626 501 626" fill="none" stroke="#969696" stroke-width="6.5" stroke-linecap="round" stroke-linejoin="round" filter="url(#b2)"/>
<path d="M556 617.5C553.6 618.4 547.5 621.6 541.8 623C536.1 624.4 527.6 625.4 522 626C516.4 626.6 510.3 626.4 508 626.5" fill="none" stroke="#ababab" stroke-width="4" stroke-linecap="round" stroke-linejoin="round" filter="url(#b1_8)"/>
<path d="M592 604.5C592 602.1 604.9 595.8 611 593C617.1 590.2 621.4 589.7 628.8 588C636.2 586.3 647.8 584.9 655.5 583C663.2 581.1 669.6 578.3 675 576.5C680.4 574.7 686.2 571.2 688 572C689.8 572.8 688.3 577.7 686 581C683.7 584.3 679 588.6 674 592C669 595.4 662.9 599 656 601.5C649.1 604 639.9 606 632.4 607C624.9 608 617.7 607.9 611 607.5C604.3 607.1 592 606.9 592 604.5Z" fill="#4b4b4b" filter="url(#b1_8)"/>
<path d="M603 602C603.8 600.3 613 597.3 620 595.5C627 593.7 637.3 592.7 645 591C652.7 589.3 660.7 587 666 585.5C671.3 584 676.2 581.1 677 582C677.8 582.9 674.5 588.2 671 591C667.5 593.8 661.8 596.8 656 599C650.2 601.2 642.8 602.9 636 604C629.2 605.1 620.5 605.8 615 605.5C609.5 605.2 602.2 603.7 603 602Z" fill="#2e2e2e" filter="url(#b2_6)"/>
<path d="M322 646.5C324 644.8 337.9 643.3 345 642C352.1 640.7 367.4 638.2 375 636.5C382.6 634.8 394.7 631.6 402 629.5C409.3 627.4 423.6 622.9 430 621C436.4 619.1 444.7 616.3 450 615.5C455.3 614.7 465.3 614.4 470 615C474.7 615.6 481.5 618.1 485 620C488.5 621.9 491.3 627.1 496 629C500.7 630.9 506.1 633.1 520 634C533.9 634.9 576 635.4 600 636C624 636.6 673.3 637.8 700 638.5C726.7 639.2 773.3 640.8 800 641.5C826.7 642.2 886.7 642.2 900 644C913.3 645.8 976 653.5 900 655C824 656.5 407.1 656.1 330 655C252.9 653.9 320 648.2 322 646.5Z" fill="#6e6e6e" filter="url(#b1_2)"/>
<path d="M352 647C354 645.1 368.6 642.7 375 641C381.4 639.3 393.3 636.6 400 634.5C406.7 632.4 418.7 627.7 425 625.5C431.3 623.3 441 619.1 447 618C453 616.9 464.7 616.5 470 617C475.3 617.5 483.1 620.1 487 622C490.9 623.9 494.6 629.1 499 631C503.4 632.9 506.5 635.5 520 636.5C533.5 637.5 576 638 600 638.5C624 639 673.3 639.9 700 640.5C726.7 641.1 773.3 642.4 800 643C826.7 643.6 886.7 643.4 900 645C913.3 646.6 972 653.7 900 655C828 656.3 433.1 656.1 360 655C286.9 653.9 350 648.9 352 647Z" fill="#4a4a4a" filter="url(#b1_5)"/>
<path d="M434 636C433.5 633.7 442 627.6 447 625C452 622.4 458.3 620.8 464 620.5C469.7 620.2 476.5 621.4 481 623C485.5 624.6 488.8 627.7 491 630C493.2 632.3 500.8 635.5 494 637C487.2 638.5 460 639.2 450 639C440 638.8 434.5 638.3 434 636Z" fill="#333333" filter="url(#b3_3)"/>
<path d="M450 644.8 L482 644.8" fill="none" stroke="#1c1c1c" stroke-width="2.4" stroke-linecap="round" stroke-linejoin="round" filter="url(#b1_6)"/>
<path d="M607 645 L628 645" fill="none" stroke="#212121" stroke-width="2.2" stroke-linecap="round" stroke-linejoin="round" filter="url(#b1_6)"/>
<path d="M505 645.3 L900 645.3" fill="none" stroke="#333333" stroke-width="1.6" stroke-linecap="round" stroke-linejoin="round" filter="url(#b0_8)"/>
<path d="M270 637.5C275 637.4 289.2 636.7 300 636.8C310.8 636.9 325 637.5 335 638C345 638.5 355.8 639.7 360 640" fill="none" stroke="#e2e2e2" stroke-width="2" stroke-linecap="round" stroke-linejoin="round" filter="url(#b1_2)" opacity="0.7"/>
<path d="M200 641.9 L330 642.2" fill="none" stroke="#e6e6e6" stroke-width="1.4" stroke-linecap="round" stroke-linejoin="round" filter="url(#b0_5)"/>
<path d="M200 643.2 L345 643.6 L345 650 L200 650Z" fill="#737373" filter="url(#b0_6)"/>
<path d="M200 180 L936 180 L934 183 L887 248.5 L261 240.7 L205 221.3 L200 219.5Z" fill="#5c5c5c"/>
<path d="M887 248.5C888.1 265.1 891.6 313.4 893.4 348C895.2 382.6 896.7 420 897.8 456C898.9 492 899.5 531.7 899.9 564C900.3 596.3 900 635.7 900 650L980 650 L980 180 L936 180 L934 183Z" fill="#000000"/>
</g>
<path d="M0 0H1024V760H0Z M205 183V646H973V183Z" fill="#fff" fill-rule="evenodd"/>
<rect x="205.5" y="183.5" width="767" height="462" fill="none" stroke="#000" stroke-width="1"/>
<path d="M201.5 639.5h4M201.5 632.5h4M201.5 625.5h4M201.5 618.5h4M201.5 611.5h4M201.5 604.5h4M201.5 597.5h4M201.5 590.5h4M201.5 583.5h4M196.5 576.5h9M201.5 569.5h4M201.5 562.5h4M201.5 555.5h4M201.5 548.5h4M201.5 541.5h4M201.5 534.5h4M201.5 527.5h4M201.5 520.5h4M201.5 513.5h4M196.5 506.5h9M201.5 499.5h4M201.5 492.5h4M201.5 486.5h4M201.5 479.5h4M201.5 472.5h4M201.5 465.5h4M201.5 458.5h4M201.5 451.5h4M201.5 444.5h4M196.5 437.5h9M201.5 430.5h4M201.5 423.5h4M201.5 416.5h4M201.5 409.5h4M201.5 402.5h4M201.5 395.5h4M201.5 388.5h4M201.5 381.5h4M201.5 374.5h4M196.5 367.5h9M201.5 360.5h4M201.5 353.5h4M201.5 346.5h4M201.5 339.5h4M201.5 332.5h4M201.5 325.5h4M201.5 318.5h4M201.5 312.5h4M201.5 305.5h4M196.5 298.5h9M201.5 291.5h4M201.5 284.5h4M201.5 277.5h4M201.5 270.5h4M201.5 263.5h4M201.5 256.5h4M201.5 249.5h4M201.5 242.5h4M201.5 235.5h4M196.5 228.5h9M201.5 221.5h4M201.5 214.5h4M201.5 207.5h4M201.5 200.5h4M201.5 193.5h4M201.5 186.5h4M221.5 645.5v4M238.5 645.5v4M256.5 645.5v4M273.5 645.5v9M291.5 645.5v4M308.5 645.5v4M325.5 645.5v4M343.5 645.5v4M360.5 645.5v4M377.5 645.5v4M395.5 645.5v4M412.5 645.5v4M430.5 645.5v4M447.5 645.5v9M464.5 645.5v4M482.5 645.5v4M499.5 645.5v4M516.5 645.5v4M534.5 645.5v4M551.5 645.5v4M569.5 645.5v4M586.5 645.5v4M603.5 645.5v4M621.5 645.5v9M638.5 645.5v4M655.5 645.5v4M673.5 645.5v4M690.5 645.5v4M708.5 645.5v4M725.5 645.5v4M742.5 645.5v4M760.5 645.5v4M777.5 645.5v4M794.5 645.5v9M812.5 645.5v4M829.5 645.5v4M847.5 645.5v4M864.5 645.5v4M881.5 645.5v4M899.5 645.5v4M916.5 645.5v4M933.5 645.5v4M951.5 645.5v4M968.5 645.5v9" stroke="#000" stroke-width="1" fill="none"/>
<g class="mono"><text x="192.2" y="581.5" text-anchor="end">2</text><text x="192.2" y="511.9" text-anchor="end">4</text><text x="192.2" y="442.3" text-anchor="end">6</text><text x="192.2" y="372.7" text-anchor="end">8</text><text x="192.2" y="303.1" text-anchor="end">10</text><text x="192.2" y="233.5" text-anchor="end">12</text><text x="268.8" y="669.5" text-anchor="middle">0.070</text><text x="442.6" y="669.5" text-anchor="middle">0.075</text><text x="616.3" y="669.5" text-anchor="middle">0.080</text><text x="790.1" y="669.5" text-anchor="middle">0.085</text><text x="963.8" y="669.5" text-anchor="middle">0.090</text><text x="589" y="683" text-anchor="middle">X-Axis</text><text x="121" y="415" text-anchor="middle">Y-Axis</text><text x="139" y="432" text-anchor="middle">(x10^-3)</text></g>
<rect x="51" y="103" width="40" height="145" fill="url(#lg)"/>
<path d="M91 102.5h9.5M91 139.5h9.5M91 175.5h9.5M91 211.5h9.5M91 247.5h9.5" stroke="#000" stroke-width="1" fill="none"/>
<g class="sans"><text class="t" x="51" y="87">Pseudocolor</text><text class="t" x="51" y="97.5" style="letter-spacing:0.65px">Var: Density</text><text x="103.5" y="107.2">0.1305</text><text x="103.5" y="143.2">0.1007</text><text x="103.5" y="179.2">0.07086</text><text x="103.5" y="215.2">0.04104</text><text x="103.5" y="251.2">0.01122</text><text x="51" y="262.5" xml:space="preserve" style="white-space:pre">Max:  0.1305</text><text x="51" y="273.5" xml:space="preserve" style="white-space:pre">Min:  0.01122</text></g>
</svg>
</body></html>
